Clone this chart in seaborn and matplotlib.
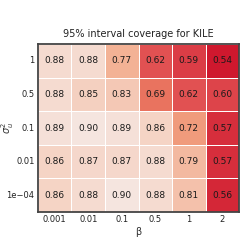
import numpy as np
import pandas as pd
import matplotlib
matplotlib.use("Agg")
import matplotlib.pyplot as plt
import seaborn as sns
from matplotlib.colors import LinearSegmentedColormap

betas = ["0.001", "0.01", "0.1", "0.5", "1", "2"]
sigmas = ["1", "0.5", "0.1", "0.01", "1e\u221204"]
row_1 = [0.88, 0.88, 0.77, 0.62, 0.59, 0.54]
row_05 = [0.88, 0.85, 0.83, 0.69, 0.62, 0.60]
row_01 = [0.89, 0.90, 0.89, 0.86, 0.72, 0.57]
row_001 = [0.86, 0.87, 0.87, 0.88, 0.79, 0.57]
row_1e4 = [0.86, 0.88, 0.90, 0.88, 0.81, 0.56]

df = pd.DataFrame([row_1, row_05, row_01, row_001, row_1e4], index=sigmas, columns=betas)

vmin, vmax = 0.54, 0.90
nodes = [(0.54, "#cf182e"), (0.59, "#db3d46"), (0.62, "#e15252"), (0.69, "#e9735f"),
         (0.72, "#f09c7d"), (0.77, "#f3b295"), (0.83, "#f4c8b5"), (0.88, "#f5dbd0"),
         (0.90, "#f5e5df")]
cmap = LinearSegmentedColormap.from_list(
    "cov", [((v - vmin) / (vmax - vmin), c) for v, c in nodes])

fig = plt.figure(figsize=(2.43, 2.42), dpi=100)
ax = fig.add_axes([0.156, 0.124, 0.828, 0.694])
sns.heatmap(df, ax=ax, cmap=cmap, vmin=vmin, vmax=vmax, annot=True, fmt=".2f",
            annot_kws={"fontsize": 6.5, "color": "#1a1a1a"}, cbar=False,
            linewidths=0.7, linecolor="white")
for s in ax.spines.values():
    s.set_visible(True)
    s.set_color("#444444")
    s.set_linewidth(1.3)
ax.tick_params(length=0, labelsize=6, colors="#222222", pad=2.5)
ax.set_yticklabels(sigmas, rotation=0)
ax.set_xticklabels(betas, rotation=0)
ax.set_xlabel("\u03b2", fontsize=7, color="#333333", labelpad=2)
ax.set_ylabel("$\\sigma_u^2$", fontsize=7, color="#333333")
ax.yaxis.set_label_coords(-0.11, 0.5)
ax.set_title("95% interval coverage for KILE", fontsize=7, color="#222222", pad=5)
fig.savefig("out.png", dpi=100)
